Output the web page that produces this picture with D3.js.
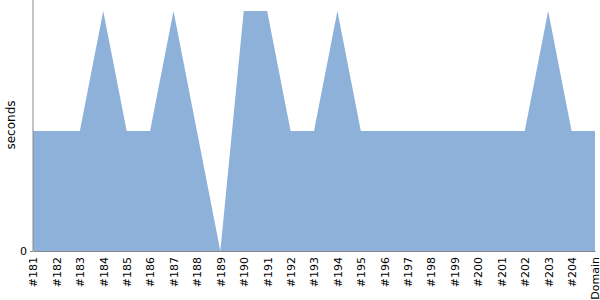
<!DOCTYPE html>
<html>
<head>
<meta charset="utf-8">
<script src="https://cdn.jsdelivr.net/npm/d3@7"></script>
<style>
  body { margin: 0; background: #fff; }
  svg text { font-family: "DejaVu Sans", sans-serif; font-size: 11px; fill: #000; }
</style>
</head>
<body>
<div id="chart"></div>
<script>
var builds = ["#181","#182","#183","#184","#185","#186","#187","#188","#189","#190","#191","#192",
              "#193","#194","#195","#196","#197","#198","#199","#200","#201","#202","#203","#204","Domain"];
var seconds = [1,1,1,2,1,1,2,1,0,2,2,1,1,2,1,1,1,1,1,1,1,1,2,1,1];
var yTicks = [0];

var width = 600, height = 300;
var plotLeft = 33, plotRight = 595, plotBottom = 251, plotTop = 0;

var svg = d3.select("#chart").append("svg")
    .attr("width", width)
    .attr("height", height);

var x = d3.scalePoint()
    .domain(builds)
    .range([plotLeft, plotRight]);

var y = d3.scaleLinear()
    .domain([0, 2.092])
    .range([plotBottom, plotTop]);

var area = d3.area()
    .x(function(d, i) { return x(builds[i]); })
    .y0(y(0))
    .y1(function(d) { return y(d); });

svg.append("path")
    .datum(seconds)
    .attr("fill", "#8eb1da")
    .attr("d", area);

// x axis
var xAxis = svg.append("g")
    .attr("transform", "translate(0," + plotBottom + ")")
    .call(d3.axisBottom(x).tickSize(0).tickPadding(0));
xAxis.select(".domain").attr("stroke", "#888");
xAxis.selectAll("text")
    .attr("transform", "rotate(-90)")
    .attr("text-anchor", "end")
    .attr("x", -6)
    .attr("y", 0)
    .attr("dy", "0.35em");

// y axis
var yAxis = svg.append("g")
    .attr("transform", "translate(" + plotLeft + ",0)")
    .call(d3.axisLeft(y).tickValues(yTicks).tickFormat(d3.format("d")).tickSize(3).tickPadding(3));
yAxis.select(".domain").attr("stroke", "#888").attr("d", "M0," + plotTop + "V" + plotBottom);
yAxis.selectAll(".tick line").attr("stroke", "#888");

svg.append("text")
    .attr("transform", "translate(15,125) rotate(-90)")
    .attr("text-anchor", "middle")
    .style("font-size", "12px")
    .text("seconds");
</script>
</body>
</html>
